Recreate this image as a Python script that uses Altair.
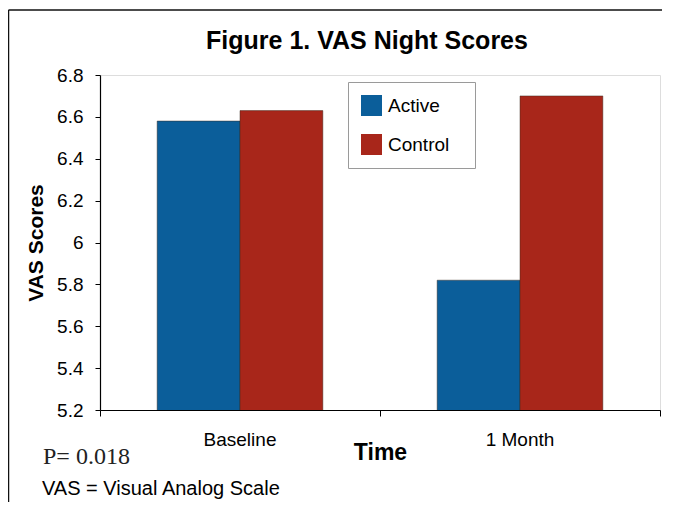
import altair as alt
import pandas as pd

times = ["Baseline", "1 Month"]
groups = ["Active", "Control"]
active_scores = [6.58, 5.82]
control_scores = [6.63, 6.70]
y_ticks = [5.2, 5.4, 5.6, 5.8, 6.0, 6.2, 6.4, 6.6, 6.8]
p_note = ["P= 0.018"]
vas_note = ["VAS = Visual Analog Scale"]
colors = ["#0b5e9a", "#a8261a"]

rows = []
for t, a, c in zip(times, active_scores, control_scores):
    rows.append({"Time": t, "Group": "Active", "Score": a})
    rows.append({"Time": t, "Group": "Control", "Score": c})
df = pd.DataFrame(rows)

FONT = "Liberation Sans"

bars = alt.Chart(df).mark_bar(
    stroke="#3b2a20", strokeWidth=0.8, strokeOpacity=0.6, clip=True
).encode(
    x=alt.X(
        "Time:N", sort=times,
        scale=alt.Scale(paddingInner=0, paddingOuter=0),
        axis=alt.Axis(
            title="Time", labelAngle=0, bandPosition=1, tickExtra=True,
            tickSize=6, labelPadding=14, labelFontSize=19, labelFont=FONT,
            labelColor="black", titleFont=FONT, titleFontSize=23,
            titleFontWeight="bold", titleColor="black", titlePadding=-8,
            domainColor="black", tickColor="black", domainWidth=1.2,
        ),
    ),
    xOffset=alt.XOffset(
        "Group:N", sort=groups,
        scale=alt.Scale(paddingInner=0, paddingOuter=0.69),
    ),
    y=alt.Y(
        "Score:Q",
        scale=alt.Scale(domain=[5.2, 6.8], nice=False, zero=False),
        axis=alt.Axis(
            values=y_ticks, format=".1~f", title="VAS Scores", grid=False,
            tickSize=5, labelPadding=12, labelFontSize=19, labelFont=FONT,
            labelColor="black", titleFont=FONT, titleFontSize=21,
            titleFontWeight="bold", titleColor="black", titlePadding=10,
            domainColor="black", tickColor="black", domainWidth=1.2,
        ),
    ),
    color=alt.Color(
        "Group:N", sort=groups,
        scale=alt.Scale(domain=groups, range=colors),
        legend=alt.Legend(
            title="—", titleOrient="right", titleColor="white",
            titleFontSize=11, titlePadding=2,
            orient="none", legendX=248, legendY=7,
            symbolType="square", symbolSize=441, symbolStrokeWidth=0,
            labelFont=FONT, labelFontSize=19, labelColor="black",
            labelOffset=6, rowPadding=18, padding=13,
            fillColor="white", strokeColor="#9a9a9a",
        ),
    ),
)

p_text = alt.Chart(pd.DataFrame({"note": p_note})).mark_text(
    font="Liberation Serif", fontSize=24, align="left", baseline="alphabetic", color="#222"
).encode(text="note:N", x=alt.value(-57), y=alt.value(389))

vas_text = alt.Chart(pd.DataFrame({"note": vas_note})).mark_text(
    font=FONT, fontSize=20, align="left", baseline="alphabetic", color="black"
).encode(text="note:N", x=alt.value(-58), y=alt.value(420))

frame_df = pd.DataFrame({"k": [0]})
border_top = alt.Chart(frame_df).mark_rule(color="#111", strokeWidth=1.5).encode(
    x=alt.value(-91.5), x2=alt.value(562), y=alt.value(-65)
)
border_left = alt.Chart(frame_df).mark_rule(color="#111", strokeWidth=1.5).encode(
    x=alt.value(-91.5), y=alt.value(-65), y2=alt.value(430)
)

chart = alt.layer(bars, p_text, vas_text, border_top, border_left).properties(
    width=560, height=335,
    autosize="none",
    padding={"left": 92, "top": 67, "right": 5, "bottom": 92},
    title=alt.TitleParams(
        "Figure 1. VAS Night Scores", font=FONT, fontSize=25, fontWeight="bold",
        color="black", anchor="middle", dx=-13, offset=-65, baseline="alphabetic",
    ),
).configure_view(
    fill="#dcd5a8", stroke="#c4c4bc", strokeWidth=1.2
).configure(background="white")

chart.save("out.html", embed_options={"renderer": "svg", "actions": False})
